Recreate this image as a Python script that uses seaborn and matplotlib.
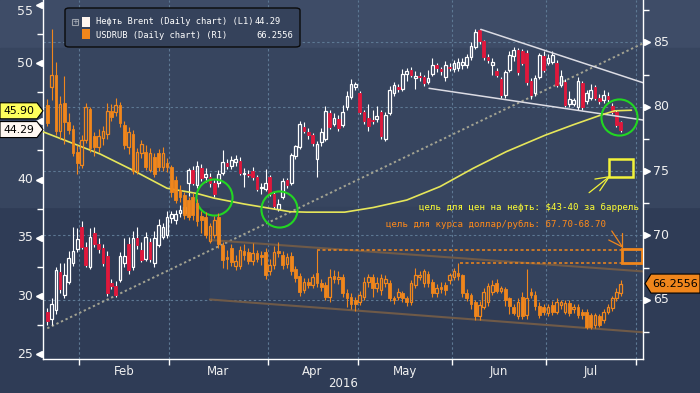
import numpy as np
import pandas as pd
import matplotlib
matplotlib.use("Agg")
import matplotlib.pyplot as plt
import seaborn as sns
from matplotlib import transforms
from matplotlib.patches import Rectangle, Polygon, FancyBboxPatch

sns.set_theme(style="dark")
plt.rcParams['font.family'] = ['DejaVu Sans']

# ---- data ----
dates = pd.bdate_range('2016-01-20', '2016-07-26')

brent_open = [28.65, 28.0, 28.8, 32.1, 30.1, 31.2, 32.8, 34.0, 35.9, 34.2,
              32.5, 35.4, 34.5, 34.1, 33.4, 31.1, 30.9, 31.4, 32.8, 34.5,
              32.5, 35.0, 33.95, 33.2, 34.6, 32.8, 34.4, 35.1, 35.2, 36.7,
              36.5, 37.1, 37.1, 39.7, 40.8, 39.5, 41.0, 40.2, 40.2, 39.7,
              39.7, 40.6, 41.4, 41.2, 41.5, 41.6, 40.5, 40.5, 40.7, 40.2,
              39.3, 39.2, 40.2, 38.75, 37.5, 38.5, 39.95, 39.7, 42.0, 42.8,
              44.5, 44.1, 43.8, 41.8, 43.2, 43.5, 45.7, 44.8, 45.2, 44.7,
              46.25, 47.1, 47.9, 47.4, 45.8, 45.25, 45.1, 45.2, 45.8, 43.5,
              45.7, 47.4, 47.9, 47.8, 49.05, 49.4, 48.7, 48.9, 48.8, 48.4,
              49.1, 49.8, 49.5, 48.8, 49.7, 49.5, 49.6, 49.8, 49.8, 50.5,
              51.4, 52.8, 51.9, 50.5, 49.8, 49.3, 48.6, 47.25, 49.4, 50.6,
              51.1, 51.0, 50.9, 48.5, 47.4, 48.8, 50.6, 50.0, 50.1, 50.0,
              48.1, 48.4, 46.5, 46.5, 46.25, 48.3, 46.7, 47.0, 47.9, 47.0,
              46.8, 47.2, 46.3, 45.8, 44.9]
brent_close = [27.9, 29.3, 32.2, 30.6, 31.8, 33.3, 33.9, 34.9, 34.2, 32.7,
               35.1, 34.5, 34.0, 32.8, 30.3, 30.9, 30.1, 33.4, 33.4, 32.2,
               35.0, 34.4, 33.1, 35.1, 33.2, 35.0, 36.1, 35.9, 36.8, 37.0,
               37.0, 37.4, 37.6, 40.8, 39.7, 41.2, 40.1, 40.5, 39.7, 38.8,
               40.5, 41.5, 41.2, 41.7, 41.8, 40.6, 40.6, 40.4, 40.2, 39.2,
               39.4, 39.7, 38.8, 37.7, 37.9, 39.9, 39.5, 42.1, 42.9, 44.8,
               44.2, 43.8, 43.1, 43.05, 44.1, 45.9, 44.5, 45.25, 44.4, 45.8,
               47.2, 48.2, 48.2, 45.8, 45.0, 44.6, 45.0, 45.45, 43.7, 45.5,
               47.7, 48.1, 47.8, 49.05, 49.3, 49.0, 48.9, 48.8, 48.3, 48.7,
               49.8, 49.6, 49.3, 49.8, 49.6, 50.0, 50.1, 50.1, 50.5, 51.5,
               52.7, 51.9, 50.5, 50.3, 50.1, 49.0, 47.25, 49.2, 50.7, 51.1,
               49.25, 50.0, 48.4, 47.25, 48.7, 50.7, 49.4, 50.4, 50.7, 48.1,
               48.9, 46.4, 46.9, 46.8, 48.5, 46.25, 47.4, 47.7, 47.0, 46.7,
               47.25, 46.9, 45.8, 44.7, 44.29]
brent_high = [29.0, 29.8, 32.5, 32.8, 32.8, 33.9, 35.9, 35.8, 36.4, 34.6,
              35.8, 35.9, 35.0, 34.5, 33.9, 31.5, 31.3, 33.8, 35.0, 35.1,
              35.6, 35.9, 34.6, 35.5, 35.0, 35.6, 36.6, 36.3, 37.3, 37.3,
              37.4, 37.8, 38.0, 41.0, 41.2, 41.6, 41.3, 41.0, 40.6, 40.0,
              40.8, 42.5, 41.8, 42.0, 42.1, 41.9, 41.0, 40.8, 41.1, 40.4,
              39.7, 40.9, 40.4, 38.9, 38.3, 40.1, 40.1, 42.3, 43.0, 45.0,
              44.9, 44.4, 44.0, 43.3, 44.4, 46.3, 46.0, 45.7, 45.5, 46.4,
              47.6, 48.6, 48.4, 47.6, 46.0, 46.5, 46.0, 46.3, 46.0, 45.8,
              48.0, 48.4, 48.2, 49.5, 49.6, 49.7, 49.3, 49.2, 49.0, 49.4,
              50.4, 50.0, 49.7, 50.2, 50.0, 50.3, 50.4, 50.4, 50.8, 51.8,
              52.9, 52.9, 52.0, 50.8, 50.4, 49.6, 48.8, 49.4, 51.0, 51.4,
              51.3, 51.2, 51.1, 48.7, 49.0, 50.9, 51.0, 50.8, 51.0, 50.3,
              49.4, 48.6, 47.6, 47.0, 48.8, 48.5, 47.7, 48.2, 48.1, 47.3,
              47.7, 47.5, 46.6, 46.0, 45.0]
brent_low = [27.5, 27.5, 28.5, 30.3, 29.8, 31.0, 32.6, 33.8, 34.0, 32.5,
             32.3, 34.2, 33.7, 32.6, 30.0, 30.6, 29.9, 31.2, 32.5, 31.9,
             32.2, 34.0, 32.9, 33.0, 32.9, 32.5, 34.2, 34.9, 35.0, 36.3,
             36.2, 36.8, 36.9, 38.6, 39.5, 39.3, 39.9, 39.8, 39.4, 38.5,
             39.4, 40.4, 40.9, 40.9, 41.2, 40.4, 39.4, 40.2, 40.0, 39.0,
             38.8, 39.0, 38.6, 37.5, 37.3, 38.3, 39.3, 39.5, 41.8, 42.6,
             44.0, 43.5, 42.9, 40.2, 42.9, 43.3, 44.3, 44.6, 44.2, 44.5,
             46.0, 46.9, 47.7, 45.6, 44.8, 44.2, 44.8, 44.9, 43.5, 43.3,
             45.5, 47.2, 47.5, 47.6, 48.5, 48.8, 47.8, 48.5, 48.0, 48.2,
             48.9, 49.2, 49.0, 48.5, 49.3, 49.2, 49.3, 49.5, 49.6, 50.3,
             51.2, 51.6, 50.3, 50.0, 49.0, 48.8, 47.0, 47.0, 49.2, 50.2,
             49.0, 49.8, 48.1, 46.9, 47.2, 48.6, 49.2, 49.8, 49.9, 47.9,
             47.9, 46.2, 46.2, 46.3, 46.0, 46.0, 46.5, 46.8, 46.8, 46.5,
             46.6, 46.6, 45.6, 44.5, 44.1]

rub_open = [80.1, 81.5, 82.5, 78.1, 80.3, 78.8, 78.3, 76.5, 75.5, 77.4,
            79.8, 77.7, 76.9, 77.6, 77.9, 79.7, 79.6, 80.1, 78.6, 76.9,
            77.9, 75.0, 76.4, 76.5, 75.1, 76.1, 76.4, 75.3, 75.6, 75.3,
            74.3, 73.5, 73.1, 72.75, 73.0, 72.5, 71.5, 71.45, 69.6, 70.0,
            71.45, 69.25, 68.35, 69.0, 67.6, 67.6, 68.8, 68.7, 68.0, 68.6,
            68.5, 68.7, 67.2, 67.7, 68.8, 68.5, 67.8, 68.4, 67.4, 66.85,
            65.75, 66.4, 66.15, 67.05, 66.3, 66.15, 65.2, 66.85, 66.6, 66.8,
            65.5, 65.2, 65.0, 64.85, 65.2, 66.4, 66.8, 65.9, 65.75, 66.3,
            66.3, 65.1, 65.2, 65.5, 65.1, 64.85, 66.15, 66.8, 66.3, 67.0,
            66.4, 65.5, 66.0, 66.15, 66.5, 66.75, 67.1, 66.9, 65.5, 65.35,
            64.85, 63.7, 64.45, 64.8, 65.6, 66.3, 65.7, 65.8, 65.1, 64.45,
            63.7, 65.2, 63.8, 65.6, 65.4, 64.5, 64.46, 63.95, 64.6, 64.07,
            64.6, 64.07, 64.72, 64.3, 64.46, 64.07, 64.07, 63.82, 63.04, 63.7,
            63.43, 64.07, 64.33, 65.11, 65.5]
rub_close = [78.7, 82.5, 78.1, 80.2, 78.8, 78.2, 76.4, 75.6, 77.4, 80.0,
             76.8, 76.9, 77.7, 78.1, 79.7, 79.2, 80.1, 78.7, 77.0, 78.0,
             75.0, 76.5, 77.1, 75.3, 76.4, 74.8, 75.3, 76.4, 75.3, 73.4,
             72.75, 73.0, 71.6, 71.45, 71.6, 71.1, 71.2, 70.0, 70.7, 71.2,
             69.3, 68.1, 68.2, 67.9, 68.0, 68.9, 68.5, 68.0, 68.6, 68.2,
             68.3, 66.9, 67.7, 68.7, 68.6, 67.7, 68.3, 67.2, 66.7, 65.6,
             66.4, 66.15, 66.8, 66.3, 66.0, 65.2, 66.8, 66.6, 66.8, 65.5,
             65.1, 64.7, 64.7, 65.4, 66.4, 66.8, 65.9, 66.3, 66.7, 66.6,
             65.1, 65.0, 65.6, 65.1, 64.85, 66.3, 66.9, 66.9, 67.2, 66.3,
             65.5, 65.9, 65.8, 65.75, 66.9, 67.25, 66.85, 65.5, 65.1, 64.65,
             63.7, 64.6, 65.6, 66.1, 66.15, 65.7, 65.9, 65.0, 64.5, 63.95,
             64.85, 63.7, 65.1, 65.4, 64.5, 63.8, 64.07, 64.46, 64.07, 64.85,
             64.85, 64.72, 63.95, 64.46, 63.82, 63.82, 62.9, 62.9, 63.82, 63.04,
             64.07, 64.46, 65.11, 65.63, 66.2556]
rub_high = [80.6, 86.0, 83.5, 80.8, 82.4, 79.5, 78.6, 77.0, 77.8, 80.3,
            80.0, 78.0, 78.3, 78.5, 80.3, 80.2, 80.7, 80.4, 78.9, 78.4,
            78.2, 76.8, 77.4, 77.0, 76.8, 76.4, 76.7, 76.9, 76.0, 75.5,
            74.6, 73.9, 73.4, 73.0, 73.3, 72.8, 71.9, 71.8, 71.0, 71.5,
            71.7, 69.5, 68.9, 69.3, 68.5, 69.2, 69.3, 69.0, 69.4, 68.9,
            68.8, 69.0, 68.2, 69.2, 69.5, 68.8, 68.6, 68.7, 67.6, 67.1,
            66.7, 66.7, 67.0, 68.87, 66.6, 66.4, 67.4, 67.3, 67.2, 67.0,
            65.8, 65.5, 65.2, 65.7, 66.8, 67.0, 67.0, 66.8, 67.0, 66.9,
            66.5, 65.3, 65.9, 65.7, 65.3, 66.5, 67.5, 67.2, 67.4, 67.2,
            66.6, 66.2, 66.4, 66.4, 67.1, 67.5, 67.88, 67.0, 65.8, 65.5,
            65.0, 64.9, 65.9, 66.3, 66.5, 66.6, 66.1, 66.0, 65.2, 64.7,
            65.1, 65.6, 67.4, 65.9, 65.7, 64.8, 64.7, 64.7, 64.9, 65.1,
            65.0, 65.0, 65.0, 64.7, 64.7, 64.3, 64.3, 64.0, 64.0, 63.9,
            64.3, 64.7, 65.3, 65.9, 66.5]
rub_low = [78.5, 80.5, 77.8, 77.5, 77.1, 77.9, 76.2, 74.8, 75.2, 77.2,
           76.5, 76.2, 76.5, 77.0, 77.5, 78.9, 79.3, 78.4, 76.7, 76.3,
           74.8, 74.8, 76.0, 75.1, 74.9, 74.5, 75.0, 75.0, 74.9, 73.0,
           72.5, 72.6, 71.3, 71.2, 71.2, 70.7, 70.2, 69.8, 69.4, 69.8,
           69.0, 67.5, 67.4, 67.6, 67.3, 67.4, 68.1, 67.8, 67.7, 67.9,
           67.7, 66.6, 66.9, 67.4, 68.3, 67.4, 67.5, 66.9, 66.4, 65.3,
           65.5, 65.9, 65.9, 66.0, 65.7, 65.0, 64.8, 66.3, 66.2, 65.2,
           64.4, 64.3, 64.1, 64.6, 65.0, 66.0, 65.2, 65.6, 65.4, 66.0,
           64.9, 64.7, 65.0, 64.8, 64.5, 64.6, 65.9, 66.5, 66.0, 66.0,
           65.2, 65.2, 65.5, 65.4, 66.2, 66.5, 66.5, 65.2, 64.9, 64.3,
           63.4, 63.4, 64.3, 64.5, 65.4, 65.5, 65.5, 64.5, 63.9, 63.8,
           63.5, 63.5, 63.5, 65.1, 64.2, 63.6, 63.8, 63.7, 63.8, 63.9,
           64.3, 63.9, 63.7, 64.0, 63.6, 63.5, 62.7, 62.7, 62.8, 62.9,
           63.2, 63.9, 64.1, 64.9, 65.3]

# moving average of Brent (yellow line), read at points along the curve
ma_idx = [-1, 12.3, 20, 28, 35, 39, 46, 56.7, 60.6, 69.5, 76.2, 84, 91.8,
          99.5, 107.3, 116.3, 122.9, 129.1, 132.6, 136.5]
ma_val = [44.1, 42.2, 40.8, 39.25, 38.8, 38.4, 37.9, 37.24, 37.2, 37.2, 37.6,
          38.24, 39.4, 40.96, 42.4, 43.8, 44.7, 45.5, 45.9, 45.95]

# drawn annotation lines (index, value)
brent_trend_x = [0, 139.2]
brent_trend_y = [27.23, 51.69]
brent_up_x = [101.3, 139.2]
brent_up_y = [52.89, 48.31]
brent_lo_x = [89.2, 139.2]
brent_lo_y = [47.83, 45.11]
rub_up_x = [38.0, 139.2]
rub_up_y = [69.64, 67.20]
rub_lo_x = [38.0, 139.2]
rub_lo_y = [65.02, 62.47]
circle_x = [38.9, 54.1, 133.6]
circle_y = [38.52, 37.44, 45.4]
oil_target = [131.3, 136.9, 40.24, 41.79]     # x0, x1, y0, y1 (Brent axis)
rub_target = [134.4, 138.9, 67.88, 68.95]     # x0, x1, y0, y1 (USDRUB axis)
rub_levels = [(63.0, 68.87), (96.4, 67.88)]   # dotted level start, value

left_ticks = [25, 30, 35, 40, 45, 50, 55]
right_ticks = [65, 70, 75, 80, 85]

BG_TOP, BG_MID, BG_LOW = '#3e4c67', '#37455f', '#2f3c56'
RED, ORANGE, YELLOW = '#e0183c', '#f0861c', '#f2f23a'

fig = plt.figure(figsize=(7, 3.93), dpi=100)
fig.patch.set_facecolor(BG_LOW)
W, H = 700, 393
def fx(px):
    return px / W
def fy(py):
    return 1 - py / H

# background bands
fig.add_artist(Rectangle((0, fy(48)), 1, 48 / H, transform=fig.transFigure, color=BG_TOP, zorder=-10))
fig.add_artist(Rectangle((0, fy(207)), 1, (207 - 48) / H, transform=fig.transFigure, color=BG_MID, zorder=-10))
fig.add_artist(Rectangle((fx(210), fy(298)), fx(643) - fx(210), (298 - 207) / H,
                         transform=fig.transFigure, color='#34425c', zorder=-9))

ax = fig.add_axes([fx(43), fy(359.3), fx(643) - fx(43), 359.3 / H])
ax.set_facecolor('none')
ax2 = ax.twinx()
ax2.patch.set_visible(False)

xmin, xmax = -1.0, 139.2
ax.set_xlim(xmin, xmax)
ax.set_ylim(24.57, 55.41)
ax2.set_ylim(60.37, 88.29)

# month boundaries from the trading days
all_days = pd.bdate_range('2016-01-20', '2016-08-01')
month_start = [i for i in range(1, len(all_days)) if all_days[i].month != all_days[i - 1].month]
bounds = [i - 0.5 for i in month_start]
mids = [(bounds[k] + bounds[k + 1]) / 2 for k in range(len(bounds) - 1)]
month_names = [all_days[i].strftime('%b') for i in month_start[:-1]]

# grid (right-axis levels + month lines)
grid_kw = dict(color='#5d7893', lw=0.8, dashes=(2.2, 2.2), zorder=0.5)
blend_r = transforms.blended_transform_factory(ax.transAxes, ax2.transData)
for v in right_ticks:
    ax.plot([0, 1], [v, v], transform=blend_r, **grid_kw)
for b in bounds:
    ax.axvline(b, **grid_kw)


def candles(axis, o, h, l, c, up_col, down_col, wick_col, z):
    o, h, l, c = map(np.asarray, (o, h, l, c))
    x = np.arange(len(o))
    top = np.maximum(o, c)
    bot = np.minimum(o, c)
    up = c >= o
    hgt = np.maximum(top - bot, 0.07)
    axis.vlines(x, top, h, color=wick_col, lw=0.8, zorder=z)
    axis.vlines(x, l, bot, color=wick_col, lw=0.8, zorder=z)
    axis.bar(x[up], hgt[up], 0.62, bot[up], facecolor='none', edgecolor=up_col, lw=0.9, zorder=z)
    axis.bar(x[~up], hgt[~up], 0.62, bot[~up], facecolor=down_col, edgecolor=down_col, lw=0.6, zorder=z)


candles(ax, brent_open, brent_high, brent_low, brent_close, 'white', RED, 'white', 3)
candles(ax2, rub_open, rub_high, rub_low, rub_close, ORANGE, ORANGE, ORANGE, 3)

# Brent overlays
ax.plot(brent_trend_x, brent_trend_y, color='#a3a392', lw=1.4, ls=(0, (1.2, 1.4)), zorder=2)
ax.plot(brent_up_x, brent_up_y, color='#dcdce4', lw=1.1, zorder=4)
ax.plot(brent_lo_x, brent_lo_y, color='#dcdce4', lw=1.1, zorder=4)
sns.lineplot(x=ma_idx, y=ma_val, ax=ax, color='#e6e65a', lw=1.2, sort=False,
             estimator=None, zorder=4)
ax.plot(circle_x, circle_y, 'o', ms=26, mfc='none', mec='#22d622', mew=1.5, zorder=6)
x0, x1, y0, y1 = oil_target
ax.add_patch(Rectangle((x0, y0), x1 - x0, y1 - y0, fill=False, ec=YELLOW, lw=1.8, zorder=6))
for sx, sy in [(126.6, 38.87), (129.1, 39.04), (127.96, 40.04)]:
    ax.plot([sx, x0], [sy, y0], color=YELLOW, lw=0.9, zorder=6)

# USDRUB overlays
ax2.plot(rub_up_x, rub_up_y, color='#6f5a48', lw=1.5, zorder=2)
ax2.plot(rub_lo_x, rub_lo_y, color='#6f5a48', lw=1.5, zorder=2)
rx0, rx1, ry0, ry1 = rub_target
for sx, lv in rub_levels:
    ax2.plot([sx, rx0], [lv, lv], color=ORANGE, lw=1.1, dashes=(2, 1.6), zorder=5)
ax2.add_patch(Rectangle((rx0, ry0), rx1 - rx0, ry1 - ry0, fill=False, ec=ORANGE, lw=2, zorder=6))
for sx, sy in [(131.9, 70.34), (131.2, 69.64), (134.4, 70.19)]:
    ax2.plot([sx, rx0], [sy, 69.1], color=ORANGE, lw=0.9, zorder=6)

mono = ['DejaVu Sans Mono']
ax2.text((639 - 43) / 600, (359.3 - 207) / 359.3, 'цель для цен на нефть: \\$43-40 за баррель',
         transform=ax2.transAxes, ha='right', va='center', color='#ffff33', fontsize=6.6, family=mono)
ax2.text((386 - 43) / 600, (359.3 - 224) / 359.3, 'цель для курса доллар/рубль: 67.70-68.70',
         transform=ax2.transAxes, ha='left', va='center', color='#ff8a1a', fontsize=6.6, family=mono)

# axes, ticks, labels
for a in (ax, ax2):
    for s in a.spines.values():
        s.set_visible(False)
ax.spines['left'].set_visible(True)
ax.spines['bottom'].set_visible(True)
ax2.spines['right'].set_visible(True)
for s in (ax.spines['left'], ax.spines['bottom'], ax2.spines['right']):
    s.set_color('white')
    s.set_linewidth(1.0)

ax.set_yticks(left_ticks)
ax.set_yticklabels([])
ax.set_yticks(np.arange(27.5, 55, 5), minor=True)
ax.tick_params(axis='y', which='major', length=0, left=True)
ax.tick_params(axis='y', which='minor', length=4, width=1, color='white', direction='out', left=True)
ax2.set_yticks(right_ticks)
ax2.set_yticklabels([])
ax2.set_yticks(np.arange(62.5, 88, 5), minor=True)
ax2.tick_params(axis='y', which='major', length=0, right=True)
ax2.tick_params(axis='y', which='minor', length=4, width=1, color='white', direction='out', right=True)

ax.set_xticks(mids)
ax.set_xticklabels(month_names)
ax.set_xticks(bounds, minor=True)
ax.tick_params(axis='x', which='major', length=0, pad=4, labelsize=8.5, labelcolor='#f0f0f0', bottom=True)
ax.tick_params(axis='x', which='minor', length=4, width=1, color='white', direction='out', bottom=True)
ax.set_xlim(xmin, xmax)
ax.text(0.5, -0.066, '2016', transform=ax.transAxes, ha='center', va='center', color='#f0f0f0', fontsize=8.5)

bl = transforms.blended_transform_factory(ax.transAxes, ax.transData)
br = transforms.blended_transform_factory(ax2.transAxes, ax2.transData)
ax.plot([-4 / 600] * len(left_ticks), left_ticks, ls='none', marker='<', ms=5, color='white',
        transform=bl, clip_on=False)
ax2.plot([1 + 4 / 600] * len(right_ticks), right_ticks, ls='none', marker='>', ms=5, color='white',
         transform=br, clip_on=False)
# the 45 label sits under the last-value tags in the reference, so it is not drawn
for v in left_ticks:
    if v == 45:
        continue
    ax.text(-10 / 600, v, str(v), transform=bl, ha='right', va='top' if v == 55 else 'center',
            color='#f0f0f0', fontsize=9)
for v in right_ticks:
    ax2.text(1 + 10 / 600, v, str(v), transform=br, ha='left', va='center', color='#f0f0f0', fontsize=9)

# value tags at the axes
def px_y(axis, val):
    return axis.transData.transform((0, val))[1]

def left_tag(y, label, face):
    verts = [(0, y - 8), (37, y - 8), (43, y), (37, y + 8), (0, y + 8)]
    fig.add_artist(Polygon(verts, closed=True, transform=transforms.IdentityTransform(),
                           fc=face, ec='black', lw=0.8, zorder=20))
    fig.text(fx(19), y / H, label, ha='center', va='center', fontsize=7.8, color='black', zorder=21)

def right_tag(val, label, face):
    y = px_y(ax2, val)
    verts = [(645, y), (651, y - 9.5), (700, y - 9.5), (700, y + 9.5), (651, y + 9.5)]
    fig.add_artist(Polygon(verts, closed=True, transform=transforms.IdentityTransform(),
                           fc=face, ec='black', lw=0.8, zorder=20))
    fig.text(fx(675), y / H, label, ha='center', va='center', fontsize=8, color='black', zorder=21)

# the two left tags are stacked just clear of each other, as in the reference
y_ma = px_y(ax, ma_val[-2])
y_cl = min(px_y(ax, brent_close[-1]), y_ma - 17.5)
left_tag(y_ma, '45.90', '#ffff5c')
left_tag(y_cl, '44.29', '#fff8f2')
right_tag(rub_close[-1], '66.2556', ORANGE)

# legend box
fig.add_artist(FancyBboxPatch((fx(65), fy(47)), fx(300) - fx(65), 39 / H,
                              boxstyle='round,pad=0,rounding_size=0.006', transform=fig.transFigure,
                              fc='#35425b', ec='#0a0a0a', lw=1.0, zorder=15))
fig.add_artist(Rectangle((fx(72), fy(25)), 6 / W, 6 / H, transform=fig.transFigure,
                         fill=False, ec='#9aa0aa', lw=0.8, zorder=16))
fig.text(fx(75), fy(22), '+', ha='center', va='center', fontsize=5, color='#c0c4cc', zorder=16)
fig.add_artist(Rectangle((fx(82), fy(27)), 8 / W, 10 / H, transform=fig.transFigure,
                         fc='#fff5ee', ec='none', zorder=16))
fig.add_artist(Rectangle((fx(82), fy(39)), 8 / W, 10 / H, transform=fig.transFigure,
                         fc=ORANGE, ec='none', zorder=16))
fig.text(fx(96), fy(22), 'Нефть Brent (Daily chart) (L1)', ha='left', va='center',
         fontsize=6.3, color='white', family=mono, zorder=16)
fig.text(fx(96), fy(35), 'USDRUB (Daily chart) (R1)', ha='left', va='center',
         fontsize=6.3, color='white', family=mono, zorder=16)
fig.text(fx(255), fy(22), f'{brent_close[-1]:.2f}', ha='left', va='center',
         fontsize=6.3, color='white', family=mono, zorder=16)
fig.text(fx(293), fy(35), f'{rub_close[-1]:.4f}', ha='right', va='center',
         fontsize=6.3, color='white', family=mono, zorder=16)

fig.savefig('out.png', dpi=100, facecolor=fig.get_facecolor())
